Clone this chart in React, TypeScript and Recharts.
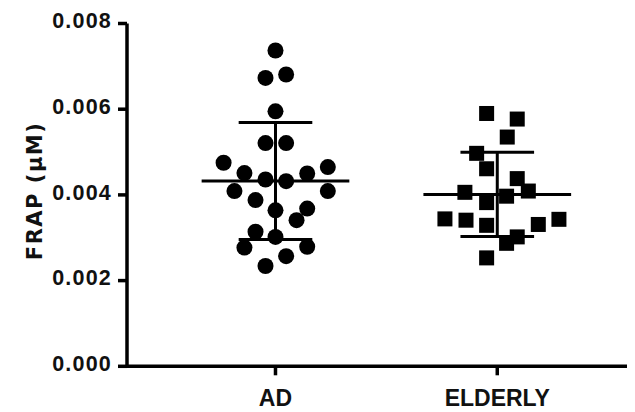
import {
  ScatterChart,
  Scatter,
  XAxis,
  YAxis,
  ReferenceLine,
} from "recharts";

const categories = ["AD", "ELDERLY"];
const yTicks = [0, 0.002, 0.004, 0.006, 0.008];

// AD group: column position (1 = AD) and FRAP values (µM)
const adX = [
  1.0, 0.955, 1.048, 1.0, 0.955, 1.048, 0.766, 0.86, 0.955, 1.048, 1.143, 1.236,
  0.815, 1.236, 0.91, 1.0, 1.143, 1.095, 0.91, 1.0, 0.86, 1.143, 1.048, 0.955,
];
const adY = [
  0.00737, 0.00673, 0.00681, 0.00595, 0.00521, 0.00521, 0.00475, 0.00451,
  0.00436, 0.00432, 0.0045, 0.00465, 0.00409, 0.00409, 0.00388, 0.00364,
  0.00368, 0.00341, 0.00314, 0.00302, 0.00277, 0.00279, 0.00257, 0.00234,
];

// ELDERLY group: column position (2 = ELDERLY) and FRAP values (µM)
const elderlyX = [
  1.952, 2.09, 2.045, 1.907, 1.952, 2.09, 1.854, 1.952, 2.042, 2.14, 1.764,
  1.859, 1.952, 2.185, 2.278, 2.09, 2.042, 1.952,
];
const elderlyY = [
  0.0059, 0.00577, 0.00535, 0.00497, 0.00461, 0.00438, 0.00406, 0.00382,
  0.00397, 0.00409, 0.00344, 0.00341, 0.00329, 0.00331, 0.00343, 0.00302,
  0.00287, 0.00253,
];

const adData = adX.map((x, i) => ({ x, y: adY[i] }));
const elderlyData = elderlyX.map((x, i) => ({ x, y: elderlyY[i] }));

function meanSd(values: number[]) {
  const mean = values.reduce((s, v) => s + v, 0) / values.length;
  const variance =
    values.reduce((s, v) => s + (v - mean) * (v - mean), 0) /
    (values.length - 1);
  return { mean, sd: Math.sqrt(variance) };
}

const groups = [
  { center: 1, ...meanSd(adY) },
  { center: 2, ...meanSd(elderlyY) },
];

const INK = "#000";

const Dot = (props: any) => <circle cx={props.cx} cy={props.cy} r={8} fill={INK} />;
const Square = (props: any) => (
  <rect x={props.cx - 7.5} y={props.cy - 7.5} width={15} height={15} fill={INK} />
);

export default function App() {
  return (
    <ScatterChart
      width={627}
      height={404}
      margin={{ top: 15.5, right: 0, bottom: 0, left: 0 }}
    >
      <XAxis
        type="number"
        dataKey="x"
        domain={[0.3305, 2.621]}
        allowDataOverflow
        ticks={[1, 2]}
        tickFormatter={(v) => categories[v - 1]}
        height={45.7}
        axisLine={{ stroke: INK, strokeWidth: 3.5 }}
        tickLine={{ stroke: INK, strokeWidth: 3.5 }}
        tickSize={9}
        tickMargin={14}
        tick={{
          fill: "#111",
          fontSize: 23,
          fontFamily: "Liberation Sans",
          fontWeight: "bold",
        }}
      />
      <YAxis
        type="number"
        dataKey="y"
        domain={[0, 0.008]}
        ticks={yTicks}
        allowDataOverflow
        tickFormatter={(v) => v.toFixed(3)}
        width={119}
        axisLine={{ stroke: INK, strokeWidth: 3.5 }}
        tickLine={{ stroke: INK, strokeWidth: 3.5 }}
        tickSize={9}
        tickMargin={6}
        tick={{
          fill: "#111",
          fontSize: 21.5,
          fontFamily: "Liberation Sans",
          fontWeight: "bold",
          letterSpacing: 1.2,
          dy: -3,
        }}
        label={{
          content: (props: any) => {
            const vb = props.viewBox || {};
            const cy = vb.y + vb.height / 2 - 4;
            return (
              <text
                x={33.7}
                y={cy}
                transform={`rotate(-90, 33.7, ${cy})`}
                textAnchor="middle"
                fill="#111"
                fontSize={21}
                fontFamily="DejaVu Sans"
                fontWeight="bold"
                letterSpacing={1.5}
              >
                FRAP (µM)
              </text>
            );
          },
        }}
      />
      <Scatter data={adData} shape={Dot} isAnimationActive={false} />
      <Scatter data={elderlyData} shape={Square} isAnimationActive={false} />
      {groups.map((g) => [
        <ReferenceLine
          key={`m${g.center}`}
          segment={[
            { x: g.center - 0.333, y: g.mean },
            { x: g.center + 0.333, y: g.mean },
          ]}
          stroke={INK}
          strokeWidth={3}
          ifOverflow="visible"
        />,
        <ReferenceLine
          key={`v${g.center}`}
          segment={[
            { x: g.center, y: g.mean - g.sd },
            { x: g.center, y: g.mean + g.sd },
          ]}
          stroke={INK}
          strokeWidth={3}
          ifOverflow="visible"
        />,
        <ReferenceLine
          key={`t${g.center}`}
          segment={[
            { x: g.center - 0.166, y: g.mean + g.sd },
            { x: g.center + 0.166, y: g.mean + g.sd },
          ]}
          stroke={INK}
          strokeWidth={3}
          ifOverflow="visible"
        />,
        <ReferenceLine
          key={`b${g.center}`}
          segment={[
            { x: g.center - 0.166, y: g.mean - g.sd },
            { x: g.center + 0.166, y: g.mean - g.sd },
          ]}
          stroke={INK}
          strokeWidth={3}
          ifOverflow="visible"
        />,
      ])}
    </ScatterChart>
  );
}
